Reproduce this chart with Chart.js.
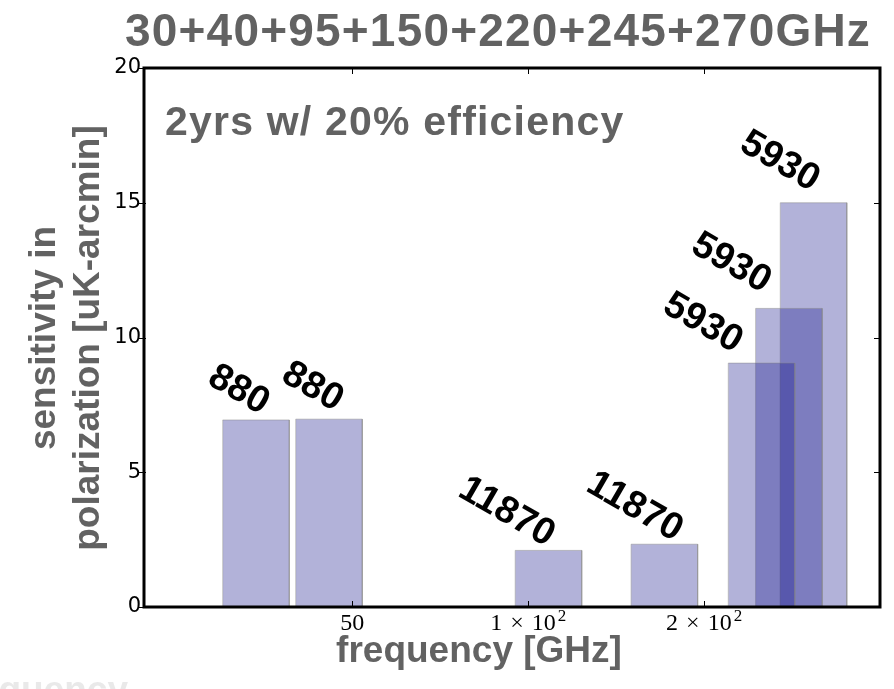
<!DOCTYPE html>
<html>
<head>
<meta charset="utf-8">
<script src="https://cdn.jsdelivr.net/npm/chart.js@4.4.1/dist/chart.umd.min.js"></script>
<style>
  html, body { margin: 0; padding: 0; background: #fff; }
  #wrap { width: 894px; height: 689px; }
</style>
</head>
<body>
<div id="wrap"><canvas id="chart" width="894" height="689"></canvas></div>
<script>
// Lower edge of each frequency band [GHz]
const bands = [30, 40, 95, 150, 220, 245, 270];
// Polarization sensitivity per band [uK-arcmin]
const sensitivity = [6.94, 6.97, 2.1, 2.33, 9.05, 11.08, 15.0];
// Detector count written above each band
const detectorCounts = ['880', '880', '11870', '11870', '5930', '5930', '5930'];
// Axis ticks: x labels as [mantissa, exponent] (exponent empty for plain numbers)
const xTickValues = [50, 100, 200];
const xTickLabels = [['50', ''], ['1\u2004×\u200410', '2'], ['2\u2004×\u200410', '2']];
const yTickValues = [0, 5, 10, 15, 20];

// Fractional bandwidth: each bar spans [f, f * (1 + BANDWIDTH)]
const BANDWIDTH = 0.3;
// Pixel nudges for the rotated count labels (centre-x, bottom) relative to each bar's top-left
const labelShift = [[17.5, -5], [18.3, -7.3], [-7, -3.3], [5, -2.3], [-24, -9.7], [-23, -15], [1, -11]];

const GREY = '#626262';
const SERIF = '"Liberation Serif", "DejaVu Serif", serif';

const datasets = bands.map((f, i) => ({
  data: [
    { x: f, y: 0 },
    { x: f, y: sensitivity[i] },
    { x: f * (1 + BANDWIDTH), y: sensitivity[i] },
    { x: f * (1 + BANDWIDTH), y: 0 }
  ],
  fill: 'origin',
  backgroundColor: 'rgba(0, 0, 128, 0.3)',
  borderColor: 'rgba(128, 128, 128, 0.45)',
  borderWidth: 1,
  pointRadius: 0,
  tension: 0
}));

const decor = {
  id: 'decor',
  afterDatasetsDraw(chart) {
    const { ctx, chartArea: a, scales: { x, y } } = chart;
    ctx.save();

    // rotated detector counts
    ctx.font = 'bold 38px "Liberation Sans", Arial, sans-serif';
    ctx.fillStyle = '#000';
    const th = Math.PI / 6;
    bands.forEach((f, i) => {
      const txt = detectorCounts[i];
      const m = ctx.measureText(txt);
      const w = m.width, h = m.actualBoundingBoxAscent;
      const H = w * Math.sin(th) + h * Math.cos(th);
      const cx = x.getPixelForValue(f) + labelShift[i][0];
      const cy = y.getPixelForValue(sensitivity[i]) + labelShift[i][1] - H / 2;
      ctx.save();
      ctx.translate(cx, cy);
      ctx.rotate(th);
      ctx.textAlign = 'left';
      ctx.textBaseline = 'alphabetic';
      ctx.fillText(txt, -w / 2, h / 2);
      ctx.restore();
    });

    // frame
    ctx.lineWidth = 3;
    ctx.strokeStyle = '#000';
    ctx.strokeRect(a.left, a.top, a.right - a.left, a.bottom - a.top);

    // tick marks
    ctx.lineWidth = 1;
    ctx.beginPath();
    x.ticks.forEach(t => {
      const px = Math.round(x.getPixelForValue(t.value)) + 0.5;
      ctx.moveTo(px, a.bottom); ctx.lineTo(px, a.bottom - 6);
      ctx.moveTo(px, a.top); ctx.lineTo(px, a.top + 6);
    });
    y.ticks.forEach(t => {
      const py = Math.round(y.getPixelForValue(t.value)) + 0.5;
      ctx.moveTo(a.left - 5, py); ctx.lineTo(a.left + 2, py);
      ctx.moveTo(a.right, py); ctx.lineTo(a.right - 6, py);
    });
    ctx.stroke();

    // x tick labels with raised exponents
    ctx.textAlign = 'left';
    ctx.textBaseline = 'alphabetic';
    x.ticks.forEach(t => {
      const k = xTickValues.indexOf(t.value);
      if (k < 0) return;
      const [base, exp] = xTickLabels[k];
      ctx.font = '24px ' + SERIF;
      const wb = ctx.measureText(base).width;
      ctx.font = '17px ' + SERIF;
      const we = exp ? ctx.measureText(exp).width + 2 : 0;
      const left = x.getPixelForValue(t.value) - (wb + we) / 2;
      ctx.font = '24px ' + SERIF;
      ctx.fillText(base, left, 630);
      if (exp) {
        ctx.font = '17px ' + SERIF;
        ctx.fillText(exp, left + wb + 2, 621);
      }
    });
    ctx.restore();
  },
  afterDraw(chart) {
    const { ctx } = chart;
    ctx.save();
    ctx.fillStyle = GREY;

    // main title
    ctx.font = 'bold 46px "Liberation Sans", Arial, sans-serif';
    ctx.letterSpacing = '1.2px';
    ctx.textAlign = 'center';
    ctx.textBaseline = 'alphabetic';
    ctx.fillText('30+40+95+150+220+245+270GHz', 498, 46);

    // annotation inside the axes
    ctx.font = 'bold 41px "Liberation Sans", Arial, sans-serif';
    ctx.textAlign = 'left';
    ctx.fillText('2yrs w/ 20% efficiency', 165, 135);
    ctx.letterSpacing = '0px';

    // x axis title
    ctx.font = 'bold 37px "Liberation Sans", Arial, sans-serif';
    ctx.textAlign = 'center';
    ctx.fillText('frequency [GHz]', 479, 662);

    // y axis title (two lines)
    ctx.save();
    ctx.translate(99, 338);
    ctx.rotate(-Math.PI / 2);
    ctx.fillText('polarization [uK-arcmin]', 0, 0);
    ctx.fillText('sensitivity in', 0, -44);
    ctx.restore();

    // faint neighbouring title at the bottom-left edge
    ctx.fillStyle = 'rgba(215, 215, 215, 0.55)';
    ctx.textAlign = 'right';
    ctx.fillText('frequency', 128, 702);
    ctx.restore();
  }
};

new Chart(document.getElementById('chart'), {
  type: 'line',
  data: { datasets },
  plugins: [decor],
  options: {
    responsive: false,
    devicePixelRatio: 1,
    animation: false,
    layout: { padding: { top: 68, right: 14, left: 0, bottom: 0 } },
    plugins: {
      legend: { display: false },
      title: { display: false },
      tooltip: { enabled: false }
    },
    scales: {
      x: {
        type: 'logarithmic',
        min: 22,
        max: 400,
        afterFit(s) { s.height = 82; },
        afterBuildTicks(s) { s.ticks = xTickValues.map(v => ({ value: v })); },
        grid: { display: false, drawTicks: false },
        border: { display: false },
        ticks: { display: false }
      },
      y: {
        type: 'linear',
        min: 0,
        max: 20,
        afterFit(s) { s.width = 144; },
        afterBuildTicks(s) { s.ticks = yTickValues.map(v => ({ value: v })); },
        grid: { display: false, drawTicks: false },
        border: { display: false },
        ticks: {
          padding: 3,
          color: '#000',
          font: { family: '"DejaVu Sans", sans-serif', size: 21 }
        }
      }
    }
  }
});
</script>
</body>
</html>
